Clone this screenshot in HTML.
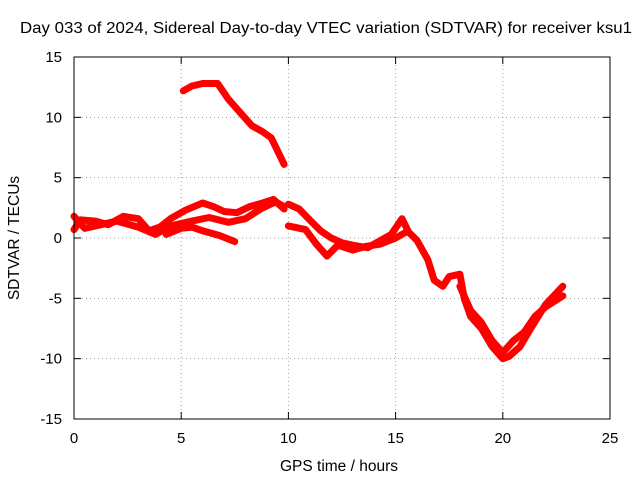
<!DOCTYPE html>
<html><head><meta charset="utf-8"><style>
body{margin:0;background:#fff}
svg{display:block;font-family:"Liberation Sans",sans-serif}
</style></head><body>
<svg id="chart" width="640" height="480">
<rect width="640" height="480" fill="#fff"/>
<text x="20" y="33" font-size="15.5" textLength="612" lengthAdjust="spacingAndGlyphs">Day 033 of 2024, Sidereal Day-to-day VTEC variation (SDTVAR) for receiver ksu1</text>
<text x="339" y="471" font-size="15.5" text-anchor="middle">GPS time / hours</text>
<text transform="translate(19,238) rotate(-90)" font-size="15.5" text-anchor="middle">SDTVAR / TECUs</text>
<g id="grid"></g><g id="ticks"></g><g id="series"></g>
<rect x="74" y="57" width="536" height="362" fill="none" stroke="#000"/>
</svg>
<script>
const xTicks=[0,5,10,15,20,25];
const yTicks=[15,10,5,0,-5,-10,-15];
const arcX=[5.1,5.5,6,6.7,7.2,7.8,8.3,8.8,9.2,9.5,9.8];
const arcY=[12.2,12.6,12.8,12.8,11.5,10.3,9.3,8.8,8.3,7.2,6.1];
const aX=[0,0.3,1,1.6,2.3,3,3.5,4,4.5,5.2,6,6.5,7,7.6,8.2,8.8,9.3,9.8];
const aY=[0.7,1.5,1.4,1.1,1.8,1.6,0.6,0.9,1.6,2.3,2.9,2.6,2.2,2.1,2.6,2.9,3.2,2.4];
const bX=[0,0.5,1,2,3,3.8,4.5,5.5,6.3,7.2,8,8.7,9.4,9.8];
const bY=[1.8,0.8,1.0,1.4,0.9,0.3,1.0,1.4,1.7,1.3,1.6,2.4,3.0,2.6];
const cX=[4.3,5,5.5,6,6.8,7.5];
const cY=[0.3,0.8,0.9,0.6,0.2,-0.3];
const dX=[10,10.5,11,11.5,12,12.5,13,13.7,14.3,14.8,15.3,15.6,16,16.5,16.8,17.2,17.5,18,18.2,18.5,19,19.5,20,20.3,20.8,21.3,22,22.8];
const dY=[2.8,2.4,1.5,0.6,0,-0.4,-0.6,-0.8,-0.2,0.3,1.6,0.5,-0.2,-1.8,-3.5,-4.0,-3.2,-3.0,-5,-6.5,-7.5,-9,-10,-9.8,-9,-7.5,-5.5,-4];
const eX=[10,10.8,11.3,11.8,12.3,13,13.6,14.3,15,15.5];
const eY=[1,0.7,-0.5,-1.5,-0.6,-1,-0.7,-0.5,0,0.5];
const fX=[18,18.5,19,19.5,20,20.5,21,21.5,22,22.8];
const fY=[-4,-6,-7,-8.5,-9.5,-8.5,-7.8,-6.5,-5.7,-4.8];
const NS="http://www.w3.org/2000/svg";
const sx=v=>74+v*(536/25), sy=v=>238-v*(362/30);
const grid=document.getElementById('grid'),ticks=document.getElementById('ticks'),ser=document.getElementById('series');
function mk(t,a,p){const e=document.createElementNS(NS,t);for(const k in a)e.setAttribute(k,a[k]);p.appendChild(e);return e;}
xTicks.forEach(v=>{const x=sx(v);
 if(v>0&&v<25){const g=mk('line',{x1:x,x2:x,y1:57,y2:419,stroke:'#a0a0a0','stroke-dasharray':'1,3'},grid);
 
 }
 mk('line',{x1:x,x2:x,y1:419,y2:412,stroke:'#000'},ticks);mk('line',{x1:x,x2:x,y1:57,y2:64,stroke:'#000'},ticks);
 const t=mk('text',{x:x,y:443,'font-size':15,'text-anchor':'middle'},ticks);t.textContent=v;
 
 });
yTicks.forEach(v=>{const y=sy(v);
 if(v>-15&&v<15){const g=mk('line',{x1:74,x2:610,y1:y,y2:y,stroke:'#a0a0a0','stroke-dasharray':'1,3'},grid);
 
 }
 mk('line',{x1:74,x2:81,y1:y,y2:y,stroke:'#000'},ticks);mk('line',{x1:610,x2:603,y1:y,y2:y,stroke:'#000'},ticks);
 const t=mk('text',{x:62,y:y+5,'font-size':15,'text-anchor':'end'},ticks);t.textContent=v;
 
 });
[[arcX,arcY],[aX,aY],[bX,bY],[cX,cY],[dX,dY],[eX,eY],[fX,fY]].forEach((s,i)=>{
 const pts=s[0].map((x,j)=>sx(x).toFixed(1)+','+sy(s[1][j]).toFixed(1)).join(' ');
 const p=mk('polyline',{points:pts,fill:'none',stroke:'#f00','stroke-width':7,'stroke-linejoin':'round','stroke-linecap':'round'},ser);
 
 
});
</script>
</body></html>
